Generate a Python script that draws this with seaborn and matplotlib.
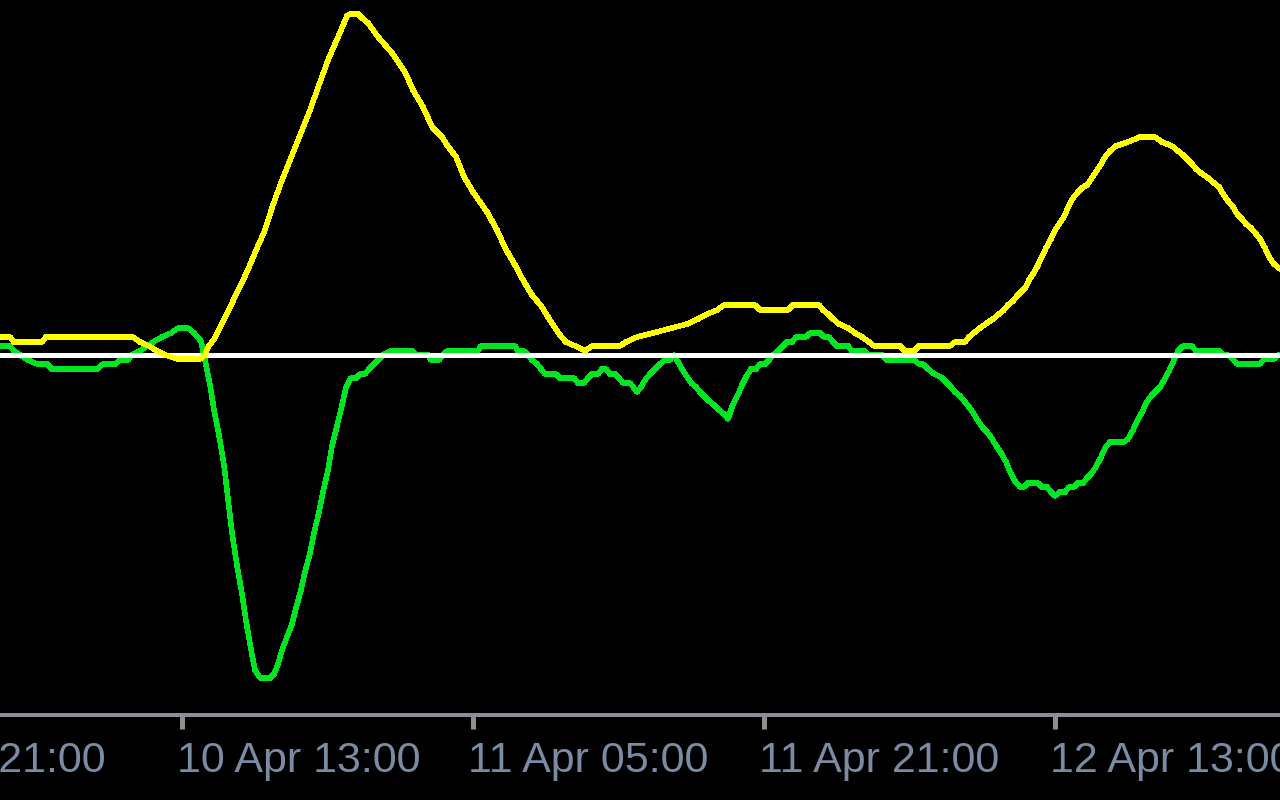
import matplotlib
matplotlib.use("Agg")
import matplotlib.pyplot as plt
import matplotlib.transforms as mtransforms
import numpy as np
import pandas as pd
import seaborn as sns

# ---------------- data (hours relative to 10 Apr 13:00) ----------------
yellow_hours = [-10.01, -9.46, -9.24, -7.70, -7.48, -2.69, -2.31, -1.81, -1.37, -0.93,
                -0.22, 0.99, 1.26, 1.43, 1.81, 2.25, 2.75, 3.57, 4.01, 4.56,
                5.00, 5.50, 6.05, 6.54, 7.04, 7.53, 8.03, 8.58, 9.07, 9.29,
                9.68, 9.90, 10.23, 10.78, 11.55, 12.26, 12.70, 13.25, 13.75, 14.30,
                14.57, 15.07, 15.51, 16.00, 16.77, 17.32, 17.76, 18.25, 18.75, 19.24,
                19.79, 20.29, 20.78, 21.11, 21.61, 22.16, 22.54, 24.08, 24.41, 25.02,
                25.90, 26.94, 27.77, 28.37, 28.87, 29.42, 29.80, 31.50, 31.78, 33.32,
                33.59, 35.02, 35.24, 35.52, 35.79, 36.12, 36.62, 37.00, 37.39, 37.77,
                38.05, 39.48, 39.75, 40.25, 40.52, 42.22, 42.50, 43.05, 43.27, 43.54,
                43.87, 44.26, 44.59, 44.92, 45.19, 45.41, 45.69, 45.91, 46.13, 46.40,
                46.57, 46.79, 47.01, 47.28, 47.50, 47.78, 48.00, 48.27, 48.49, 48.77,
                48.99, 49.26, 49.54, 49.76, 50.03, 50.25, 50.53, 50.75, 51.02, 51.35,
                52.01, 52.67, 53.50, 53.88, 54.43, 54.76, 55.04, 55.26, 55.53, 55.75,
                56.03, 56.41, 56.74, 57.02, 57.24, 57.51, 57.79, 58.01, 58.28, 58.50,
                58.78, 59.00, 59.27, 59.55, 59.77, 60.04, 60.37]
yellow_values = [1.8, 1.8, 1.3, 1.3, 1.8, 1.8, 1.3, 0.9, 0.4, 0.0,
                 -0.4, -0.4, 0.0, 0.8, 1.7, 3.3, 5.2, 8.3, 10.2, 12.5,
                 15.0, 17.5, 20.0, 22.2, 24.5, 27.0, 29.5, 31.8, 33.9, 34.1,
                 34.1, 33.7, 33.2, 31.8, 30.2, 28.3, 26.5, 24.8, 22.8, 21.8,
                 21.0, 19.8, 17.8, 16.3, 14.3, 12.5, 10.7, 9.2, 7.5, 6.0,
                 4.8, 3.3, 2.0, 1.3, 0.9, 0.4, 0.9, 0.9, 1.3, 1.8,
                 2.2, 2.7, 3.1, 3.6, 4.1, 4.5, 5.0, 5.0, 4.5, 4.5,
                 5.0, 5.0, 4.5, 4.1, 3.6, 3.1, 2.7, 2.2, 1.8, 1.3,
                 0.9, 0.9, 0.4, 0.4, 0.9, 0.9, 1.3, 1.3, 1.8, 2.2,
                 2.7, 3.2, 3.6, 4.1, 4.5, 5.0, 5.4, 5.9, 6.3, 6.8,
                 7.5, 8.1, 8.8, 9.8, 10.7, 11.6, 12.5, 13.2, 13.8, 15.0,
                 15.7, 16.3, 16.8, 17.0, 17.7, 18.3, 19.1, 19.8, 20.4, 20.9,
                 21.3, 21.8, 21.8, 21.3, 20.9, 20.4, 20.0, 19.6, 19.1, 18.6,
                 18.2, 17.7, 17.2, 16.8, 16.1, 15.4, 14.8, 14.1, 13.6, 13.1,
                 12.7, 12.2, 11.6, 10.7, 9.8, 9.1, 8.6]

green_hours = [-10.01, -9.46, -9.24, -8.91, -8.47, -7.97, -7.42, -7.15, -4.67, -4.34,
               -3.68, -3.41, -2.97, -2.75, -2.31, -1.59, -1.10, -0.60, -0.22, 0.33,
               0.66, 1.04, 1.32, 1.54, 1.76, 2.03, 2.31, 2.53, 2.75, 3.02,
               3.30, 3.52, 3.79, 4.01, 4.29, 4.84, 5.06, 5.28, 5.50, 5.77,
               6.05, 6.27, 6.54, 6.76, 7.04, 7.26, 7.53, 7.75, 8.03, 8.25,
               8.52, 8.80, 9.02, 9.29, 9.57, 9.79, 10.06, 10.28, 10.50, 10.78,
               11.05, 11.44, 12.65, 12.87, 13.53, 13.69, 14.13, 14.35, 14.57, 16.27,
               16.44, 18.31, 18.47, 18.80, 19.02, 19.24, 19.52, 19.74, 19.96, 20.56,
               20.78, 21.55, 21.77, 22.10, 22.32, 22.54, 22.87, 23.09, 23.31, 23.53,
               23.81, 24.03, 24.25, 24.63, 24.80, 25.02, 25.24, 25.46, 25.73, 26.01,
               26.28, 26.56, 26.83, 27.05, 27.27, 27.49, 27.77, 27.99, 28.26, 28.48,
               28.76, 28.98, 29.25, 29.53, 29.80, 30.02, 30.24, 30.51, 30.79, 31.01,
               31.28, 31.56, 31.78, 32.06, 32.27, 32.49, 32.77, 33.04, 33.26, 33.54,
               33.76, 34.31, 34.53, 35.08, 35.30, 35.57, 35.79, 36.01, 36.62, 36.84,
               37.50, 37.77, 38.49, 38.76, 40.25, 40.52, 40.74, 41.02, 41.29, 41.79,
               42.06, 42.28, 42.50, 42.78, 43.00, 43.27, 43.54, 43.77, 44.04, 44.31,
               44.54, 44.81, 45.03, 45.31, 45.53, 45.80, 46.08, 46.29, 46.51, 47.06,
               47.28, 47.56, 47.78, 48.00, 48.27, 48.55, 48.77, 49.04, 49.26, 49.54,
               49.76, 50.03, 50.25, 50.53, 50.75, 51.02, 51.79, 52.01, 52.29, 52.51,
               52.79, 53.01, 53.28, 53.50, 53.78, 54.00, 54.27, 54.49, 54.76, 55.04,
               55.53, 55.75, 57.02, 57.29, 57.51, 57.79, 58.01, 59.27, 59.49, 60.04,
               60.26, 60.37]
green_values = [0.9, 0.9, 0.4, 0.0, -0.5, -0.9, -0.9, -1.4, -1.4, -0.9,
                -0.9, -0.5, -0.5, 0.0, 0.4, 1.3, 1.8, 2.2, 2.7, 2.7,
                2.2, 1.4, -1.0, -3.0, -5.5, -8.0, -11.0, -14.4, -17.8, -21.0,
                -23.9, -26.6, -29.4, -31.5, -32.3, -32.3, -31.9, -30.9, -29.5, -28.2,
                -26.9, -25.3, -23.5, -21.7, -19.8, -17.8, -15.7, -13.7, -11.5, -9.1,
                -7.1, -5.0, -3.2, -2.3, -2.3, -1.9, -1.9, -1.4, -1.0, -0.5,
                0.0, 0.4, 0.4, 0.0, 0.0, -0.5, -0.5, 0.0, 0.4, 0.4,
                0.9, 0.9, 0.4, 0.4, 0.0, -0.5, -0.9, -1.4, -1.9, -1.9,
                -2.3, -2.3, -2.8, -2.8, -2.3, -1.9, -1.9, -1.4, -1.4, -1.9,
                -1.9, -2.3, -2.8, -2.8, -3.2, -3.7, -3.2, -2.5, -1.9, -1.4,
                -0.9, -0.5, -0.5, 0.0, -0.7, -1.4, -2.2, -2.8, -3.2, -3.7,
                -4.2, -4.6, -5.0, -5.5, -5.9, -6.4, -5.2, -4.2, -3.0, -2.2,
                -1.4, -1.4, -0.9, -0.9, -0.5, 0.0, 0.4, 0.9, 1.3, 1.3,
                1.8, 1.8, 2.2, 2.2, 1.8, 1.8, 1.3, 0.9, 0.9, 0.4,
                0.4, 0.0, 0.0, -0.5, -0.5, -0.9, -0.9, -1.4, -1.8, -2.3,
                -2.8, -3.2, -3.7, -4.1, -4.6, -5.2, -5.9, -6.6, -7.3, -7.8,
                -8.4, -9.2, -9.8, -10.7, -11.7, -12.6, -13.2, -13.2, -12.8, -12.8,
                -13.2, -13.2, -13.7, -14.1, -13.7, -13.7, -13.2, -13.2, -12.8, -12.8,
                -12.3, -11.8, -11.2, -10.2, -9.3, -8.7, -8.7, -8.4, -7.5, -6.6,
                -5.7, -4.8, -4.1, -3.7, -3.2, -2.5, -1.6, -0.7, 0.4, 0.9,
                0.9, 0.4, 0.4, 0.0, 0.0, -0.4, -0.9, -0.9, -0.4, -0.4,
                0.0, 0.0]

tick_hours = [-16, 0, 16, 32, 48]
tick_labels = ["9 Apr 21:00", "10 Apr 13:00", "11 Apr 05:00", "11 Apr 21:00", "12 Apr 13:00"]

# ---------------- build frames ----------------
base = pd.Timestamp("2024-04-10 13:00")
yellow_df = pd.DataFrame({"time": base + pd.to_timedelta(yellow_hours, unit="h"),
                          "value": yellow_values})
green_df = pd.DataFrame({"time": base + pd.to_timedelta(green_hours, unit="h"),
                         "value": green_values})
tick_times = [base + pd.Timedelta(hours=h) for h in tick_hours]

# ---------------- style ----------------
sns.set_style("dark", {"axes.facecolor": "black", "figure.facecolor": "black",
                       "xtick.bottom": True})
plt.rcParams["font.family"] = ["Liberation Sans", "DejaVu Sans"]

DPI = 100
fig = plt.figure(figsize=(12.8, 8.0), dpi=DPI, facecolor="black")
ax = fig.add_axes([0.0, 85 / 800, 1.0, 715 / 800])
ax.set_facecolor("black")

px = 72.0 / DPI  # points per pixel

sns.lineplot(data=green_df, x="time", y="value", ax=ax, color="#00E620",
             linewidth=4.5 * px, estimator=None, sort=False, zorder=2,
             antialiased=False)
ax.axhline(0, color="white", linewidth=5 * px, zorder=3, antialiased=False)
sns.lineplot(data=yellow_df, x="time", y="value", ax=ax, color="#FFFF00",
             linewidth=4.5 * px, estimator=None, sort=False, zorder=4,
             antialiased=False)

ax.set_xlabel("")
ax.set_ylabel("")
ax.grid(False)

for side in ["top", "left", "right"]:
    ax.spines[side].set_visible(False)
ax.spines["bottom"].set_color("#8C8E96")
ax.spines["bottom"].set_linewidth(4 * px)

ax.set_xticks(tick_times)
ax.set_yticks([])
ax.tick_params(axis="x", bottom=True, length=14 * px, width=5 * px, color="#8C8E96",
               direction="out", labelbottom=False)

# limits after ticks (set_xticks may widen the view)
ax.set_xlim(base + pd.Timedelta(hours=-10.007), base + pd.Timedelta(hours=60.37))
ax.set_ylim(-36.0, 35.5)

trans = mtransforms.blended_transform_factory(ax.transData, fig.transFigure)
trans = mtransforms.offset_copy(trans, fig=fig, x=-5, y=0, units="dots")
for t, lab in zip(tick_times, tick_labels):
    ax.text(t, (800 - 772) / 800, lab, transform=trans, ha="left", va="baseline",
            fontsize=31, color="#7A8CA4", clip_on=False)

fig.savefig("out.png", dpi=DPI, facecolor="black")
